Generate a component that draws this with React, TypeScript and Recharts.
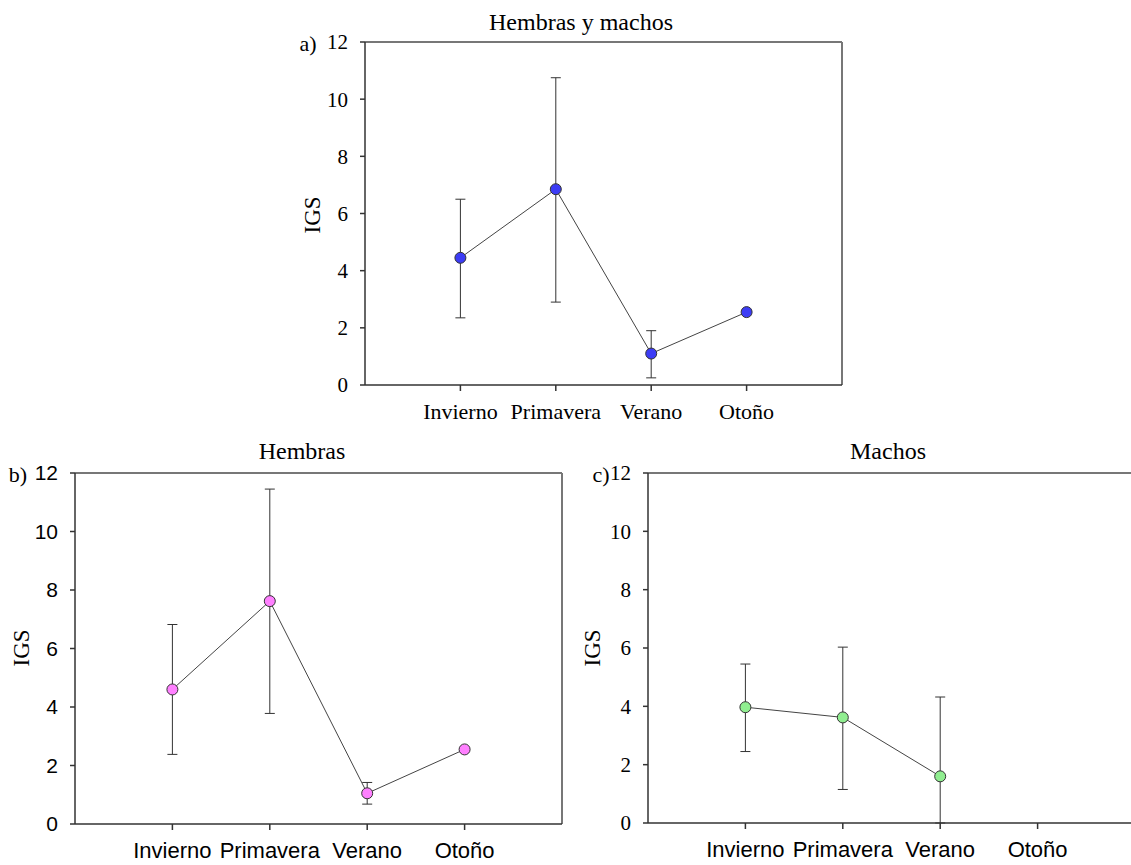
import React from "react";
import {
  LineChart,
  Line,
  XAxis,
  YAxis,
  ErrorBar,
  ReferenceLine,
} from "recharts";

const seasons = ["Invierno", "Primavera", "Verano", "Otoño"];
const seasonPos = [1, 2, 3, 4];
const yTicks = [0, 2, 4, 6, 8, 10, 12];

// a) Hembras y machos
const allMean = [4.45, 6.85, 1.1, 2.55];
const allLow = [2.35, 2.9, 0.25, null];
const allHigh = [6.5, 10.75, 1.9, null];

// b) Hembras
const femMean = [4.6, 7.62, 1.05, 2.55];
const femLow = [2.38, 3.78, 0.68, null];
const femHigh = [6.82, 11.45, 1.42, null];

// c) Machos
const maleMean = [3.97, 3.62, 1.6, null];
const maleLow = [2.45, 1.15, 0, null];
const maleHigh = [5.45, 6.03, 4.32, null];

const SERIF = "'Liberation Serif', 'Times New Roman', serif";
const SANS = "'Liberation Sans', Arial, sans-serif";

function buildRows(mean: (number | null)[], low: (number | null)[], high: (number | null)[]) {
  return seasonPos.map((x, i) => {
    const m = mean[i];
    const lo = low[i];
    const hi = high[i];
    return {
      x,
      mean: m,
      err: m == null || lo == null || hi == null ? null : [m - lo, hi - m],
    };
  });
}

type PanelProps = {
  left: number;
  top: number;
  w: number;
  h: number;
  rows: any[];
  color: string;
  yFont: string;
  xFont: string;
  xSize: number;
};

const ML = 80; // space left of the plot (y axis width)
const MT = 20;
const MB = 60;
const MR = 10;

function Panel({ left, top, w, h, rows, color, yFont, xFont, xSize }: PanelProps) {
  return (
    <div style={{ position: "absolute", left: left - ML, top: top - MT }}>
      <LineChart
        width={ML + w + MR}
        height={MT + h + MB}
        data={rows}
        margin={{ top: MT, right: MR, bottom: 0, left: 0 }}
      >
        <XAxis
          dataKey="x"
          type="number"
          domain={[0, 5]}
          ticks={seasonPos}
          interval={0}
          tickFormatter={(v: number) => seasons[v - 1]}
          height={MB}
          stroke="#333"
          strokeWidth={1.5}
          tickSize={6}
          tickMargin={12}
          tick={{ fill: "#000", fontSize: xSize, fontFamily: xFont }}
        />
        <YAxis
          type="number"
          domain={[0, 12]}
          ticks={yTicks}
          interval={0}
          width={ML}
          stroke="#333"
          strokeWidth={1.5}
          tickSize={5}
          tickMargin={12}
          tick={{ fill: "#000", fontSize: 21, fontFamily: yFont }}
        />
        <ReferenceLine y={12} stroke="#777" strokeWidth={2} />
        <ReferenceLine x={5} stroke="#777" strokeWidth={2} />
        <Line
          dataKey="mean"
          stroke="#444"
          strokeWidth={1}
          connectNulls={false}
          isAnimationActive={false}
          dot={{ r: 5.5, fill: color, stroke: "#333", strokeWidth: 1 }}
          activeDot={false}
        >
          <ErrorBar dataKey="err" direction="y" width={5} stroke="#333" strokeWidth={1} />
        </Line>
      </LineChart>
    </div>
  );
}

const txt = (
  s: string,
  x: number,
  y: number,
  size: number,
  rotate = false
) => (
  <div
    style={{
      position: "absolute",
      left: x,
      top: y,
      transform: `translate(-50%, -50%)${rotate ? " rotate(-90deg)" : ""}`,
      fontFamily: SERIF,
      fontSize: size,
      color: "#000",
      whiteSpace: "nowrap",
      lineHeight: 1,
    }}
  >
    {s}
  </div>
);

export default function App() {
  return (
    <div
      style={{
        position: "absolute",
        left: 0,
        top: 0,
        width: 1131,
        height: 865,
        overflow: "hidden",
        background: "#fff",
      }}
    >
      <Panel
        left={365}
        top={42}
        w={477}
        h={343}
        rows={buildRows(allMean, allLow, allHigh)}
        color="#3c3cf5"
        yFont={SERIF}
        xFont={SERIF}
        xSize={22}
      />
      <Panel
        left={75}
        top={473}
        w={487}
        h={351}
        rows={buildRows(femMean, femLow, femHigh)}
        color="#ff80ff"
        yFont={SANS}
        xFont={SANS}
        xSize={22}
      />
      <Panel
        left={648}
        top={473}
        w={487}
        h={350}
        rows={buildRows(maleMean, maleLow, maleHigh)}
        color="#90ee90"
        yFont={SERIF}
        xFont={SANS}
        xSize={22}
      />

      {txt("Hembras y machos", 581, 22, 24)}
      {txt("a)", 308, 44, 22)}
      {txt("IGS", 312, 215, 23, true)}

      {txt("Hembras", 302, 451, 24)}
      {txt("b)", 18, 475, 22)}
      {txt("IGS", 21, 648, 23, true)}

      {txt("Machos", 888, 451, 24)}
      {txt("c)", 601, 475, 22)}
      {txt("IGS", 592, 648, 23, true)}
    </div>
  );
}
